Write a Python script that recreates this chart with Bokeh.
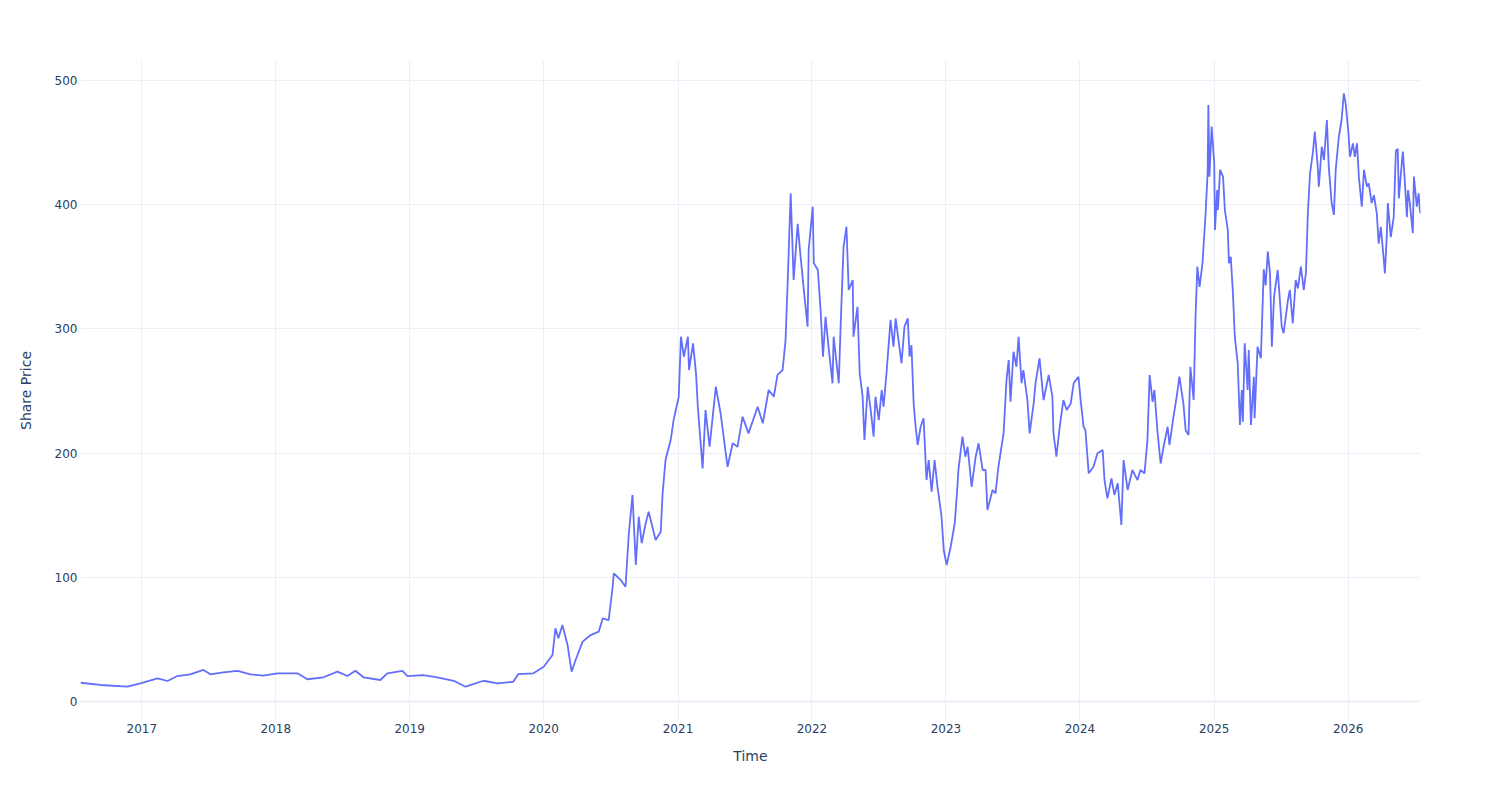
import pandas as pd
from bokeh.plotting import figure
from bokeh.models import FixedTicker, DatetimeTickFormatter, Span, Range1d, ColumnDataSource
from bokeh.embed import file_html
from bokeh.resources import INLINE

dates = [
    "2016-07-18", "2016-09-10", "2016-11-23", "2016-12-28",
    "2017-02-13", "2017-03-12", "2017-04-08", "2017-05-13", "2017-06-18", "2017-07-07",
    "2017-08-11", "2017-09-19", "2017-10-24", "2017-11-28",
    "2018-01-06", "2018-03-01", "2018-03-28", "2018-05-11", "2018-06-18", "2018-07-15",
    "2018-08-06", "2018-08-28", "2018-10-13", "2018-11-01", "2018-12-12", "2018-12-26",
    "2019-02-07", "2019-03-17", "2019-05-01", "2019-06-02", "2019-07-21", "2019-08-28",
    "2019-10-10", "2019-10-24", "2019-12-04",
    "2020-01-01", "2020-01-25", "2020-02-02", "2020-02-10", "2020-02-21", "2020-03-06",
    "2020-03-17", "2020-03-28", "2020-04-16", "2020-05-08", "2020-05-30", "2020-06-10",
    "2020-06-26", "2020-07-07", "2020-07-10", "2020-07-29", "2020-08-11", "2020-08-20",
    "2020-08-30", "2020-09-08", "2020-09-16", "2020-09-24", "2020-10-05", "2020-10-13",
    "2020-11-01", "2020-11-15", "2020-11-20", "2020-11-28", "2020-12-12", "2020-12-20",
    "2021-01-03", "2021-01-09", "2021-01-17", "2021-01-28", "2021-01-31", "2021-02-11",
    "2021-02-19", "2021-02-24", "2021-03-09", "2021-03-17", "2021-03-28", "2021-04-14",
    "2021-04-27", "2021-05-16", "2021-05-30", "2021-06-12", "2021-06-26", "2021-07-12",
    "2021-08-06", "2021-08-20", "2021-09-05", "2021-09-19", "2021-09-29", "2021-10-13",
    "2021-10-21", "2021-10-27", "2021-11-04", "2021-11-12", "2021-11-23", "2021-12-01",
    "2021-12-09", "2021-12-20", "2021-12-23",
    "2022-01-03", "2022-01-06", "2022-01-17", "2022-01-25", "2022-01-31", "2022-02-07",
    "2022-02-15", "2022-02-26", "2022-03-01", "2022-03-15", "2022-03-20", "2022-03-28",
    "2022-04-05", "2022-04-11", "2022-04-22", "2022-04-24", "2022-05-05", "2022-05-11",
    "2022-05-19", "2022-05-24", "2022-06-02", "2022-06-10", "2022-06-18", "2022-06-23",
    "2022-07-02", "2022-07-10", "2022-07-15", "2022-07-23", "2022-08-03", "2022-08-11",
    "2022-08-17", "2022-09-02", "2022-09-10", "2022-09-19", "2022-09-24", "2022-09-29",
    "2022-10-05", "2022-10-10", "2022-10-16", "2022-10-24", "2022-11-01", "2022-11-09",
    "2022-11-15", "2022-11-23", "2022-12-01", "2022-12-09", "2022-12-20", "2022-12-26",
    "2023-01-03", "2023-01-14", "2023-01-25", "2023-01-31", "2023-02-04", "2023-02-15",
    "2023-02-23", "2023-03-01", "2023-03-12", "2023-03-23", "2023-03-31", "2023-04-11",
    "2023-04-19", "2023-04-24", "2023-05-08", "2023-05-16", "2023-05-24", "2023-06-07",
    "2023-06-15", "2023-06-21", "2023-06-26", "2023-07-04", "2023-07-12", "2023-07-18",
    "2023-07-26", "2023-07-31", "2023-08-11", "2023-08-17", "2023-08-28", "2023-09-02",
    "2023-09-13", "2023-09-24", "2023-10-08", "2023-10-18", "2023-10-21", "2023-10-29",
    "2023-11-07", "2023-11-17", "2023-11-26", "2023-12-07", "2023-12-15", "2023-12-28",
    "2024-01-03", "2024-01-11", "2024-01-16", "2024-01-25", "2024-02-07", "2024-02-18",
    "2024-03-03", "2024-03-08", "2024-03-16", "2024-03-27", "2024-04-04", "2024-04-13",
    "2024-04-23", "2024-04-29", "2024-05-10", "2024-05-23", "2024-06-06", "2024-06-14",
    "2024-06-25", "2024-07-03", "2024-07-09", "2024-07-17", "2024-07-22", "2024-07-30",
    "2024-08-08", "2024-08-16", "2024-08-27", "2024-09-01", "2024-09-12", "2024-09-20",
    "2024-09-28", "2024-10-09", "2024-10-15", "2024-10-23", "2024-10-28", "2024-11-06",
    "2024-11-11", "2024-11-16", "2024-11-22", "2024-11-30", "2024-12-08", "2024-12-14",
    "2024-12-16", "2024-12-19", "2024-12-25",
    "2025-01-01", "2025-01-03", "2025-01-09", "2025-01-11", "2025-01-17", "2025-01-25",
    "2025-01-30", "2025-02-07", "2025-02-10", "2025-02-15", "2025-02-21", "2025-02-26",
    "2025-03-06", "2025-03-12", "2025-03-17", "2025-03-20", "2025-03-25", "2025-04-02",
    "2025-04-05", "2025-04-11", "2025-04-19", "2025-04-21", "2025-04-29", "2025-05-08",
    "2025-05-16", "2025-05-21", "2025-05-27", "2025-06-02", "2025-06-07", "2025-06-13",
    "2025-06-23", "2025-07-04", "2025-07-09", "2025-07-21", "2025-07-26", "2025-08-03",
    "2025-08-11", "2025-08-17", "2025-08-25", "2025-09-02", "2025-09-08", "2025-09-13",
    "2025-09-19", "2025-09-27", "2025-10-02", "2025-10-10", "2025-10-13", "2025-10-21",
    "2025-10-27", "2025-11-04", "2025-11-09", "2025-11-17", "2025-11-23", "2025-11-28",
    "2025-12-06", "2025-12-14", "2025-12-20", "2025-12-25",
    "2026-01-01", "2026-01-06", "2026-01-14", "2026-01-19", "2026-01-25", "2026-01-30",
    "2026-02-07", "2026-02-13", "2026-02-21", "2026-02-26", "2026-03-06", "2026-03-12",
    "2026-03-20", "2026-03-25", "2026-03-31", "2026-04-08", "2026-04-11", "2026-04-16",
    "2026-04-19", "2026-04-27", "2026-05-05", "2026-05-11", "2026-05-16", "2026-05-19",
    "2026-05-27", "2026-05-30", "2026-06-04", "2026-06-10", "2026-06-13", "2026-06-18",
    "2026-06-26", "2026-06-29", "2026-07-07", "2026-07-12", "2026-07-15", "2026-07-17",
]

prices = [
    15.1, 13.3, 12.0, 14.6,
    18.7, 16.5, 20.5, 21.9, 25.4, 21.9,
    23.5, 24.6, 21.9, 20.8,
    22.7, 22.7, 17.9, 19.5, 24.0, 20.5,
    24.8, 19.5, 17.3, 22.7, 24.6, 20.5,
    21.3, 19.5, 16.7, 11.9, 16.7, 14.6,
    15.9, 22.1, 22.7,
    28.0, 37.4, 58.9, 51.0, 61.6, 45.5,
    24.0, 33.4, 48.2, 53.5, 56.2, 67.0,
    65.6, 92.4, 103.2, 97.8, 92.4, 135.4,
    166.3, 109.9, 148.8, 127.4, 143.5, 152.8,
    130.0, 136.7, 167.6, 194.4, 210.5, 226.6,
    245.4, 293.7, 277.6, 293.7, 266.9, 288.4,
    264.2, 237.3, 187.7, 234.7, 205.1, 253.4,
    232.0, 189.0, 207.9, 205.0, 229.3, 215.9,
    237.3, 224.0, 250.8, 245.4, 262.9, 266.9,
    291.0, 339.4, 409.2, 339.4, 384.6, 358.1,
    333.9, 301.8, 363.5,
    398.4, 352.8, 347.4, 312.6, 277.6, 309.8,
    285.7, 256.2, 293.7, 256.2, 301.8, 366.0,
    382.3, 331.3, 339.4, 293.7, 317.8, 264.2,
    245.4, 210.5, 253.4, 234.7, 213.2, 245.4,
    226.6, 250.8, 237.3, 264.2, 307.2, 285.7,
    308.5, 272.3, 301.8, 308.5, 277.6, 287.0,
    240.0, 222.6, 206.5, 221.2, 228.0, 178.3,
    194.4, 168.9, 194.4, 172.9, 148.8, 122.0,
    109.9, 124.6, 143.5, 167.6, 186.4, 213.2,
    197.1, 205.1, 172.9, 197.1, 207.9, 186.4,
    186.4, 154.2, 170.3, 167.6, 189.0, 215.9,
    258.8, 274.9, 241.3, 281.6, 269.5, 293.7,
    256.2, 266.9, 242.7, 215.9, 240.0, 256.2,
    276.3, 242.7, 262.9, 245.4, 215.9, 197.1,
    221.2, 242.7, 234.7, 240.0, 256.2, 261.5,
    242.7, 221.2, 218.6, 183.7, 189.0, 199.8,
    202.5, 178.3, 163.6, 179.7, 166.3, 175.7,
    142.1, 194.4, 170.3, 186.4, 178.3, 186.4,
    183.7, 210.5, 262.9, 241.3, 250.8, 218.6,
    191.6, 205.1, 221.2, 206.5, 229.3, 244.1,
    261.5, 240.0, 218.6, 214.6, 269.5, 242.7,
    309.8, 350.1, 333.9, 352.8, 390.4, 425.3,
    480.3, 422.6, 462.9,
    433.4, 379.6, 411.8, 395.7, 428.0, 422.6,
    395.7, 379.6, 352.8, 358.1, 328.5, 293.7,
    272.3, 222.6, 250.8, 225.3, 288.4, 250.8,
    282.9, 222.6, 261.5, 228.0, 285.7, 276.3,
    348.0, 335.0, 362.2, 344.7, 285.7, 325.9,
    347.4, 301.8, 296.5, 323.3, 331.3, 304.5,
    339.4, 332.6, 350.1, 331.3, 345.8, 392.8,
    425.3, 442.7, 458.8, 430.6, 414.5, 446.7,
    436.0, 468.2, 430.6, 401.3, 391.8, 428.0,
    453.5, 468.2, 489.7, 481.6,
    460.1, 438.6, 449.4, 438.6, 449.4, 422.6,
    398.4, 428.0, 414.5, 417.2, 401.3, 407.7,
    392.8, 368.7, 382.2, 355.4, 344.7, 373.9,
    401.3, 373.9, 390.0, 443.6, 445.0, 405.0,
    433.4, 442.7, 419.9, 390.0, 411.8, 401.3,
    377.1, 422.6, 398.4, 409.2, 395.7, 393.0,
]

tick_years = [2017, 2018, 2019, 2020, 2021, 2022, 2023, 2024, 2025, 2026]
y_ticks = [0, 100, 200, 300, 400, 500]

x_label = "Time"
y_label = "Share Price"

dt = pd.to_datetime(dates)
src = ColumnDataSource(dict(x=dt, y=prices))

FONT = "DejaVu Sans"
TEXT_COLOR = "#2a3f5f"
GRID = "#ebf0f8"

p = figure(
    width=1500, height=800, x_axis_type="datetime",
    output_backend="svg", toolbar_location=None,
    min_border_left=80, min_border_right=80, min_border_top=60, min_border_bottom=80,
    x_range=Range1d(dt.min(), dt.max()), y_range=Range1d(-15.3, 516.1),
    background_fill_color="white", border_fill_color="white",
)
p.outline_line_color = None

p.line("x", "y", source=src, line_color="#636efa", line_width=1.8)

zero = Span(location=0, dimension="width", line_color=GRID, line_width=2, level="underlay")
p.add_layout(zero)

tick_ms = [pd.Timestamp(f"{yr}-01-01").value / 1e6 for yr in tick_years]
p.xaxis.ticker = FixedTicker(ticks=tick_ms)
p.xaxis.formatter = DatetimeTickFormatter(years="%Y", months="%Y", days="%Y", hours="%Y")
p.yaxis.ticker = FixedTicker(ticks=y_ticks)

for ax in (p.xaxis, p.yaxis):
    ax.axis_line_color = None
    ax.major_tick_line_color = None
    ax.minor_tick_line_color = None
    ax.major_tick_out = 0
    ax.major_tick_in = 0
    ax.major_label_text_font = FONT
    ax.major_label_text_font_size = "12px"
    ax.major_label_text_color = TEXT_COLOR
    ax.axis_label_text_font = FONT
    ax.axis_label_text_font_size = "14px"
    ax.axis_label_text_color = TEXT_COLOR
    ax.axis_label_text_font_style = "normal"

p.xaxis.axis_label = x_label
p.yaxis.axis_label = y_label
p.xaxis.major_label_standoff = 3
p.yaxis.major_label_standoff = 3
p.xaxis.axis_label_standoff = 12
p.yaxis.axis_label_standoff = 18

p.xgrid.grid_line_color = GRID
p.ygrid.grid_line_color = GRID
p.xgrid.grid_line_width = 1
p.ygrid.grid_line_width = 1

open("out.html", "w").write(file_html(p, INLINE))
